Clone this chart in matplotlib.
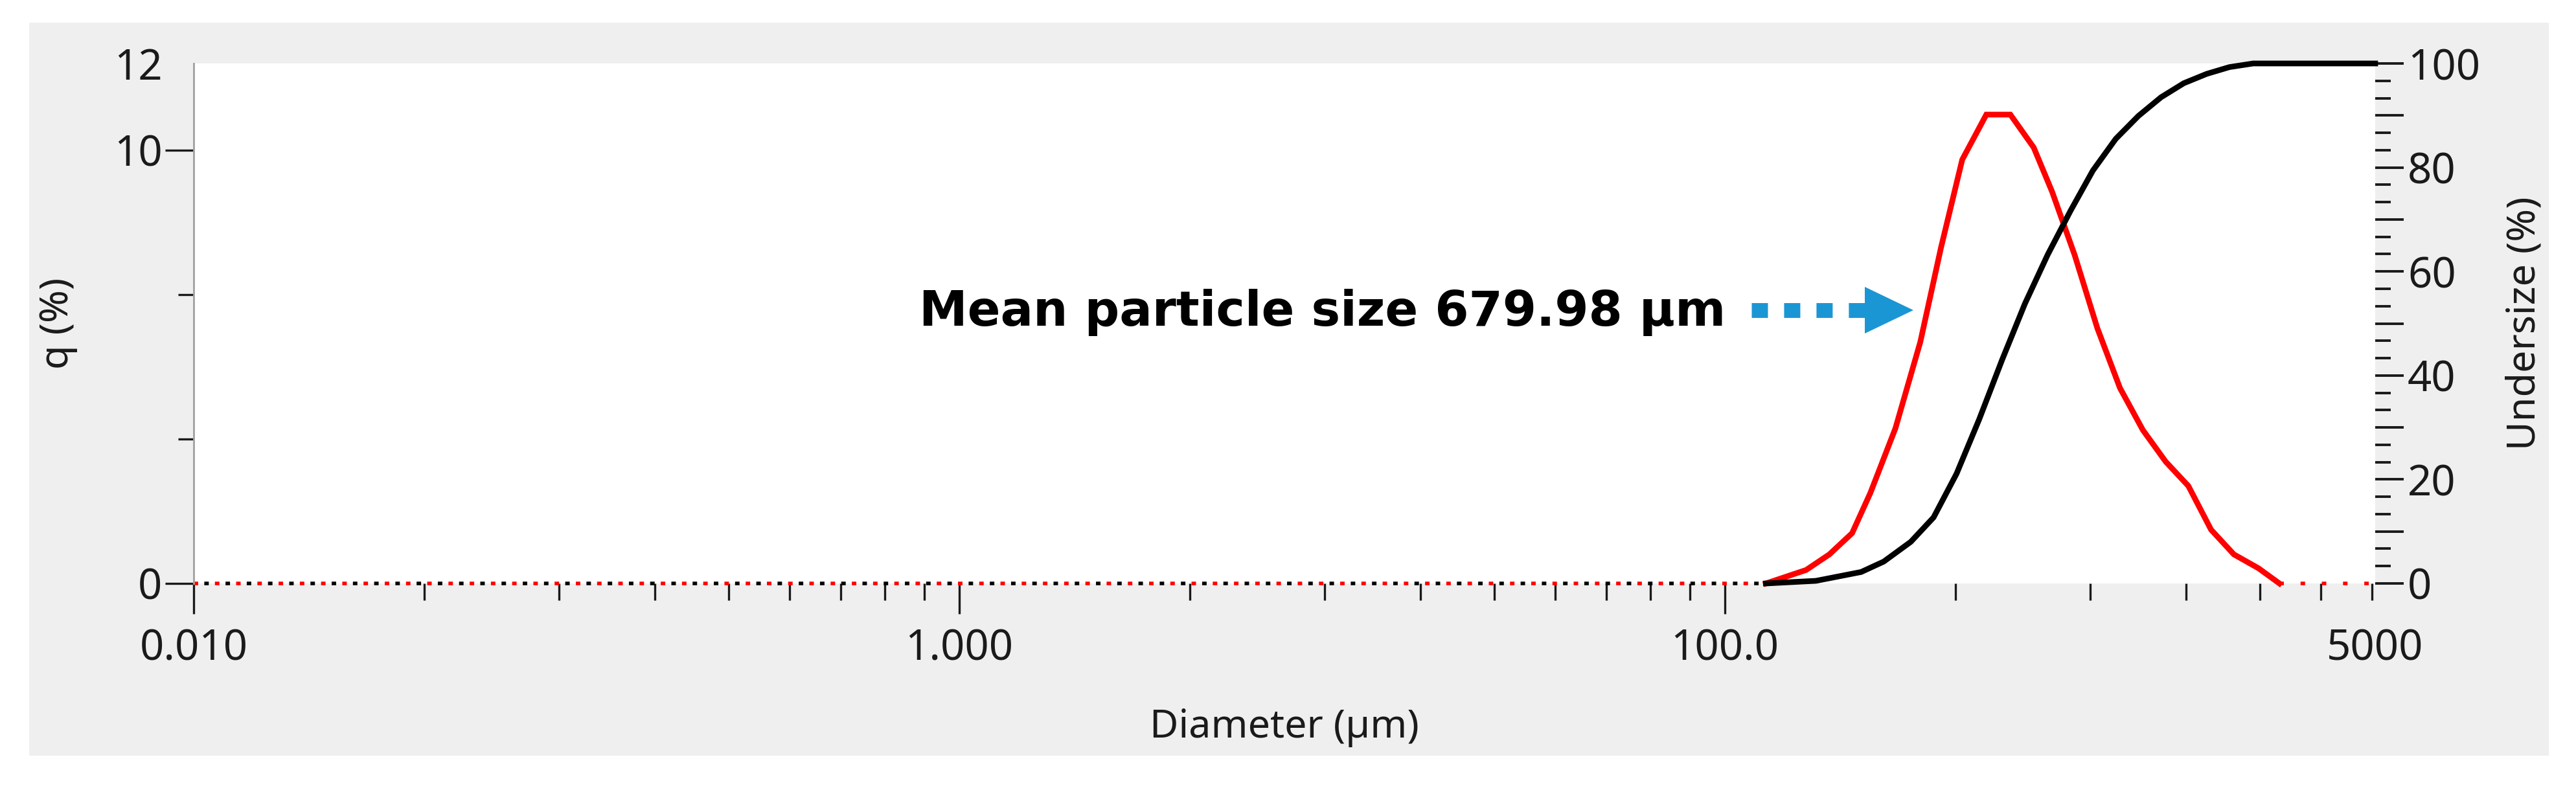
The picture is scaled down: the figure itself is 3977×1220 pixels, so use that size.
import matplotlib
matplotlib.use("Agg")
import matplotlib.pyplot as plt
from matplotlib.patches import Rectangle, Polygon
from matplotlib.lines import Line2D

plt.rcParams['font.family'] = ['Noto Sans', 'DejaVu Sans']

# frequency distribution q (%)
diam_q = [128, 163, 187.5, 215, 240, 279, 324, 367, 417, 482, 557, 641, 716,
          820, 940, 1077, 1236, 1418, 1625, 1863, 2137, 2478, 2810]
q_pct = [0, 0.31, 0.67, 1.16, 2.09, 3.58, 5.57, 7.75, 9.78, 10.82, 10.82, 10.06,
         9.04, 7.58, 5.89, 4.51, 3.54, 2.81, 2.25, 1.24, 0.67, 0.35, 0]

# cumulative undersize (%)
diam_u = [128, 173, 227, 260, 306, 351, 403, 462, 530, 608, 697, 799, 915,
          1050, 1203, 1379, 1581, 1815, 2080, 2400, 5000]
undersize = [0, 0.5, 2.2, 4.2, 8.0, 12.7, 21.1, 31.6, 43.0, 53.8, 63.2, 71.6,
             79.4, 85.5, 89.9, 93.5, 96.2, 98.0, 99.3, 100, 100]

x_min, x_max = 0.01, 5000
x_major = [0.01, 1, 100, 5000]
x_major_labels = ["0.010", "1.000", "100.0", "5000"]
x_minor = [d * n * n for d in (0.01, 1) for n in range(2, 10)] + [100 * n * n for n in range(2, 8)]

q_ticks = [0, 10, 12]
q_minor = [10 / 3, 20 / 3]
u_ticks = list(range(0, 101, 10))
u_labels = [str(v) if v % 20 == 0 else "" for v in u_ticks]
u_minor = [i * 10 / 3 for i in range(1, 30) if i % 3 != 0]

annot_text = "Mean particle size 679.98 µm"

W, H = 3977, 1220
fig = plt.figure(figsize=(W / 100, H / 100), dpi=100, facecolor="white")
fig.patches.append(Rectangle((45 / W, 1 - 1167 / H), (3935 - 45) / W, (1167 - 35) / H,
                             transform=fig.transFigure, facecolor="#efefef",
                             edgecolor="none", zorder=-1))

ax = fig.add_axes([299 / W, 1 - 901 / H, (3667 - 299) / W, (901 - 98) / H])
ax.set_facecolor("white")
ax2 = ax.twinx()

txt_col = "#1a1a1a"
red, blk = "#ff0000", "#000000"
dot_lw = 4
red_dots = (0, (1.25, 4.65))
blk_dots = (2.95, (1.25, 4.65))

# red q curve
ax.plot(diam_q, q_pct, color=red, lw=6.3, clip_on=False, solid_joinstyle="miter", zorder=3)
ax.plot([x_min, diam_q[0]], [0, 0], color=red, lw=dot_lw, ls=red_dots, clip_on=False, zorder=2)
ax.plot([diam_q[-1], x_max], [0, 0], color=red, lw=dot_lw, ls=red_dots, clip_on=False, zorder=2)

# black undersize curve
ax2.plot(diam_u, undersize, color=blk, lw=6.3, clip_on=False, zorder=3)
ax2.plot([x_min, diam_u[0]], [0, 0], color=blk, lw=dot_lw, ls=blk_dots, clip_on=False, zorder=2)

ax.set_xscale("log")
ax.set_xlim(x_min, x_max)
ax.set_ylim(0, 12)
ax2.set_ylim(0, 100)

ax.set_xticks(x_major)
ax.set_xticklabels(x_major_labels)
ax.set_xticks(x_minor, minor=True)
ax.set_yticks(q_ticks)
ax.set_yticks(q_minor, minor=True)
ax2.set_yticks(u_ticks)
ax2.set_yticklabels(u_labels)
ax2.set_yticks(u_minor, minor=True)

fs = 47
ax.tick_params(axis="x", which="major", direction="out", length=34, width=2.4, pad=15,
               labelsize=fs, colors=txt_col)
ax.tick_params(axis="x", which="minor", direction="out", length=18.5, width=2.4, colors=txt_col)
ax.tick_params(axis="y", which="major", direction="out", length=32, width=2.4, pad=3,
               labelsize=fs, colors=txt_col)
ax.tick_params(axis="y", which="minor", direction="out", length=17, width=2.4, colors=txt_col)
ax2.tick_params(axis="y", which="major", direction="out", length=32, width=2.8, pad=4,
                labelsize=fs, colors=txt_col)
ax2.tick_params(axis="y", which="minor", direction="out", length=17, width=2.8, colors=txt_col)

ax.yaxis.get_major_ticks()[2].tick1line.set_visible(False)
ax.xaxis.get_major_ticks()[3].tick1line.set_visible(False)

for s in ("top", "right", "bottom"):
    ax.spines[s].set_visible(False)
ax.spines["left"].set_color("#a0a0a0")
ax.spines["left"].set_linewidth(2)
for s in ax2.spines.values():
    s.set_visible(False)

lab_fs = 44
ax.set_ylabel("q (%)", fontsize=lab_fs, color=txt_col, va="center")
ax.yaxis.set_label_coords((90 - 299) / 3368, 0.5)
ax2.set_ylabel("Undersize (%)", fontsize=lab_fs, color=txt_col, va="center")
ax2.yaxis.set_label_coords((3898 - 299) / 3368, 0.5)
ax.set_xlabel("Diameter (µm)", fontsize=lab_fs, color=txt_col, va="center")
ax.xaxis.set_label_coords(0.5, (901 - 1124) / 803)

# annotation with dotted blue arrow
fig.text(1419 / W, 1 - 503 / H, annot_text, fontsize=54, fontweight="bold",
         family="DejaVu Sans", color="black", ha="left", va="baseline")
blue = "#1b96d4"
fig.add_artist(Line2D([2704 / W, 2885 / W], [1 - 479 / H, 1 - 479 / H], color=blue,
                      lw=16.5, ls=(0, (1.09, 1.09)), dash_capstyle="butt",
                      transform=fig.transFigure))
fig.add_artist(Polygon([(2879 / W, 1 - 443 / H), (2954 / W, 1 - 479 / H), (2879 / W, 1 - 515 / H)],
                       closed=True, facecolor=blue, edgecolor="none", transform=fig.transFigure))

fig.savefig("out.png", dpi=100, facecolor="white")
